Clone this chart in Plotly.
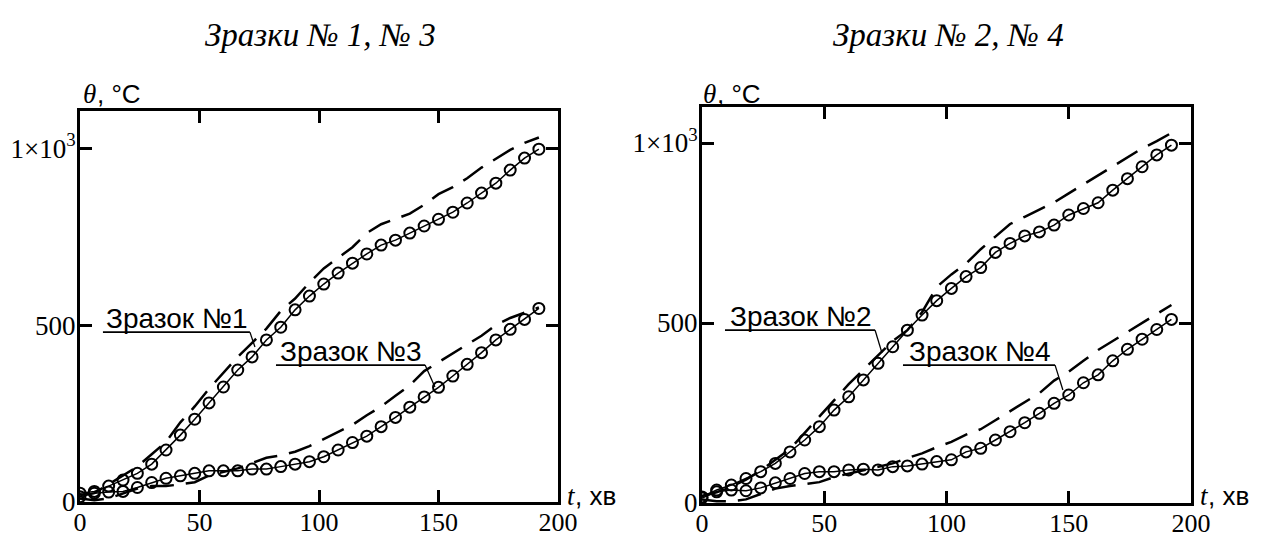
import plotly.graph_objects as go

t_min = list(range(0, 193, 6))

s1_circ = [25, 30, 45, 62, 81, 107, 147, 189, 234, 280, 325, 373, 410, 458, 494, 543, 582,
           616, 647, 675, 701, 726, 740, 760, 780, 799, 819, 845, 873, 901, 938, 972, 997]
s1_dash = [20, 25, 50, 75, 100, 135, 170, 225, 270, 320, 365, 410, 450, 490, 540, 575, 620,
           660, 690, 720, 760, 785, 800, 815, 840, 870, 890, 915, 945, 970, 995, 1015, 1030]
s3_circ = [15, 25, 28, 30, 41, 55, 67, 74, 81, 88, 88, 88, 93, 93, 100, 107, 114,
           128, 147, 168, 186, 213, 239, 268, 297, 324, 356, 389, 422, 458, 488, 516, 547]
s3_dash = [10, 5, 10, 25, 38, 45, 45, 50, 56, 75, 85, 95, 110, 125, 132, 142, 158,
           178, 198, 218, 245, 270, 300, 330, 370, 395, 420, 445, 470, 500, 520, 535, 550]
s2_circ = [17, 36, 50, 68, 87, 110, 142, 175, 212, 258, 295, 342, 388, 434, 480, 522, 562,
           596, 629, 654, 696, 721, 742, 753, 772, 800, 818, 834, 869, 901, 934, 967, 994]
s2_dash = [20, 30, 45, 65, 90, 120, 150, 195, 240, 285, 330, 370, 410, 450, 480, 530, 600,
           635, 665, 705, 740, 775, 795, 815, 835, 860, 885, 910, 935, 960, 985, 1005, 1028]
s4_circ = [14, 31, 36, 34, 42, 56, 68, 82, 87, 87, 92, 94, 92, 101, 103, 108, 115,
           120, 142, 152, 175, 198, 223, 249, 277, 300, 334, 356, 395, 427, 455, 482, 510]
s4_dash = [10, 5, 5, 10, 25, 40, 47, 52, 58, 72, 82, 90, 100, 110, 125, 138, 155,
           170, 190, 205, 230, 255, 280, 305, 340, 365, 395, 425, 450, 475, 500, 525, 550]

x_ticks = [0, 50, 100, 150, 200]
x_ticktext = ["0", "50", "100", "150", "200"]
y_ticks = [0, 500, 1000]
y_ticktext = ["0", "500", "1×10<sup>3</sup>"]

panel_titles = ["Зразки № 1, № 3", "Зразки № 2, № 4"]
sample_labels = ["Зразок №1", "Зразок №3", "Зразок №2", "Зразок №4"]

# page body has an 8px margin; the figure starts 8px in and fills to the window edge
OFF = 8
W, H = 1270 - OFF, 541 - OFF
SERIF = "Liberation Serif"
SANS = "Liberation Sans"

fig = go.Figure()

def add_pair(circ, dash, xa, ya):
    fig.add_trace(go.Scatter(x=t_min, y=dash, mode="lines", xaxis=xa, yaxis=ya,
                             line=dict(color="black", width=2.5, dash="24px,12px"),
                             showlegend=False, hoverinfo="skip"))
    fig.add_trace(go.Scatter(x=t_min, y=circ, mode="lines+markers", xaxis=xa, yaxis=ya,
                             line=dict(color="black", width=1.5),
                             marker=dict(symbol="circle-open", size=11, color="black",
                                         line=dict(width=2, color="black")),
                             showlegend=False))

add_pair(s1_circ, s1_dash, "x", "y")
add_pair(s3_circ, s3_dash, "x", "y")
add_pair(s2_circ, s2_dash, "x2", "y2")
add_pair(s4_circ, s4_dash, "x2", "y2")

def sx(p):
    return (p - OFF) / W

def sy(p):
    return 1 - (p - OFF) / H

axis_common = dict(showgrid=False, zeroline=False, showline=True, linecolor="black",
                   linewidth=3, mirror="ticks", ticks="inside", ticklen=12,
                   tickwidth=2.5, tickcolor="black", automargin=False)
xfont = dict(family=SERIF, size=26, color="black")
yfont = dict(family=SERIF, size=27, color="black")

fig.update_layout(
    template="none",
    width=W, height=H,
    margin=dict(l=0, r=0, t=0, b=0, pad=0),
    paper_bgcolor="white", plot_bgcolor="white",
    xaxis=dict(domain=[sx(80), sx(558)], range=[0, 200],
               tickvals=x_ticks, ticktext=x_ticktext, anchor="y",
               ticklabelstandoff=-5, tickfont=xfont, **axis_common),
    yaxis=dict(domain=[sy(502), sy(111)], range=[0, 1105],
               tickvals=y_ticks, ticktext=y_ticktext, anchor="x",
               ticklabelstandoff=-4, tickfont=yfont, **axis_common),
    xaxis2=dict(domain=[sx(702), sx(1191)], range=[0, 200],
                tickvals=x_ticks, ticktext=x_ticktext, anchor="y2",
                ticklabelstandoff=-5, tickfont=xfont, **axis_common),
    yaxis2=dict(domain=[sy(503), sy(107)], range=[0, 1100],
                tickvals=y_ticks, ticktext=y_ticktext, anchor="x2",
                ticklabelstandoff=-4, tickfont=yfont, **axis_common),
)

ann = []
# panel titles
for txt, cx in zip(panel_titles, [320, 948]):
    ann.append(dict(text="<i>" + txt + "</i>", x=sx(cx), y=sy(35),
                    xref="paper", yref="paper", showarrow=False,
                    font=dict(family=SERIF, size=33, color="black"),
                    xanchor="center", yanchor="middle"))
# axis titles (symbol italic serif, unit in sans)
for lx in [81, 701]:
    ann.append(dict(text="<i>θ</i>", x=sx(lx), y=sy(94),
                    xref="paper", yref="paper", showarrow=False,
                    font=dict(family=SERIF, size=27, color="black"),
                    xanchor="left", yanchor="middle"))
    ann.append(dict(text=", °C", x=sx(lx + 14), y=sy(94),
                    xref="paper", yref="paper", showarrow=False,
                    font=dict(family=SANS, size=26, color="black"),
                    xanchor="left", yanchor="middle"))
for lx in [565, 1198]:
    ann.append(dict(text="<i>t</i>", x=sx(lx), y=sy(496),
                    xref="paper", yref="paper", showarrow=False,
                    font=dict(family=SERIF, size=27, color="black"),
                    xanchor="left", yanchor="middle"))
    ann.append(dict(text=", хв", x=sx(lx + 8), y=sy(496),
                    xref="paper", yref="paper", showarrow=False,
                    font=dict(family=SANS, size=26, color="black"),
                    xanchor="left", yanchor="middle"))

# sample labels: (label, xref, yref, x_start, x_end, y_line, leader_x, leader_y)
labels = [
    (sample_labels[0], "x", "y", 9.6, 71.1, 480, 73.2, 438),
    (sample_labels[1], "x", "y", 82.0, 144.4, 387, 148.5, 325),
    (sample_labels[2], "x2", "y2", 9.4, 70.8, 480, 73.6, 417),
    (sample_labels[3], "x2", "y2", 82.2, 144.4, 383, 147.6, 314),
]
shapes = []
for lab, xr, yr, x0, x1, yl, lx, ly in labels:
    ann.append(dict(text=lab, x=(x0 + x1) / 2, y=yl, xref=xr, yref=yr,
                    showarrow=False, xanchor="center", yanchor="bottom", yshift=-4,
                    font=dict(family=SANS, size=28, color="black")))
    shapes.append(dict(type="line", xref=xr, yref=yr, x0=x0, x1=x1, y0=yl, y1=yl,
                       line=dict(color="black", width=1.8)))
    shapes.append(dict(type="line", xref=xr, yref=yr, x0=x1, x1=lx, y0=yl, y1=ly,
                       line=dict(color="black", width=1.3)))

fig.update_layout(annotations=ann, shapes=shapes)
fig.write_html("out.html")
